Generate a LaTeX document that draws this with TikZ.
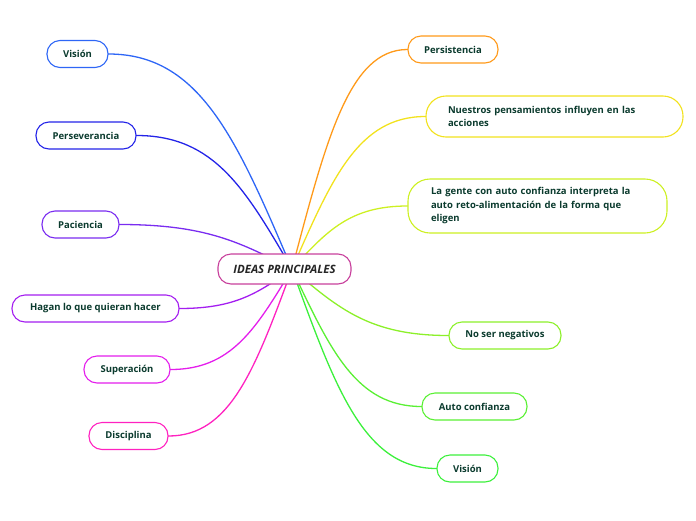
\documentclass[tikz,border=0pt]{standalone}
\usepackage{fontspec}
\setmainfont{Open Sans}
\usetikzlibrary{calc}
\definecolor{txt}{HTML}{0B3B2E}
\definecolor{cvisL}{HTML}{2E66F6}
\definecolor{cpersev}{HTML}{2424E8}
\definecolor{cpac}{HTML}{7A2CF0}
\definecolor{chagan}{HTML}{A41EF0}
\definecolor{csuper}{HTML}{E41EEC}
\definecolor{cdisc}{HTML}{FF22C0}
\definecolor{cpersist}{HTML}{FF9A1A}
\definecolor{cnuestros}{HTML}{F2E21E}
\definecolor{cgente}{HTML}{CDF022}
\definecolor{cnoser}{HTML}{8CF02A}
\definecolor{cauto}{HTML}{5AF034}
\definecolor{cvisR}{HTML}{3CF03C}
\definecolor{ccentral}{HTML}{C8409C}
\tikzset{
  idea/.style={draw, line width=1.1pt, fill=white, rounded corners=13pt,
    minimum height=27pt, inner xsep=4pt, inner ysep=0pt,
    font=\fontsize{9.5}{13.5}\selectfont\bfseries, text=txt},
  bigidea/.style={idea, align=left, inner xsep=22pt, rounded corners=20pt},
  central/.style={draw=ccentral, line width=1.1pt, fill=white, rounded corners=13pt,
    minimum width=133pt, minimum height=30pt,
    font=\fontsize{11.5}{13}\selectfont\bfseries\itshape, text=black!85},
  conn/.style={line width=1.3pt, line cap=round}
}
\newcommand{\linkL}[2]{%
  \draw[conn,#2] let \p1=(#1), \p2=(hub) in (\p1) .. controls ({0.5*\x1+0.5*\x2},\y1) and ({0.7*\x2+0.3*\x1},{0.4*\y2+0.6*\y1}) .. (\p2);}
\begin{document}
\begin{tikzpicture}[x=1pt,y=-1pt]
\useasboundingbox (0,0) rectangle (696,520);
\coordinate (hub) at (292,269);
% left nodes
\node[idea, draw=cvisL, minimum width=61pt] (visL) at (77.5,54) {Visión};
\node[idea, draw=cpersev, minimum width=100pt] (persev) at (86,135.5) {Perseverancia};
\node[idea, draw=cpac, minimum width=77pt] (pac) at (80.5,224.5) {Paciencia};
\node[idea, draw=chagan, minimum width=167pt] (hagan) at (95.5,308.5) {Hagan lo que quieran hacer};
\node[idea, draw=csuper, minimum width=86pt] (super) at (127,369.5) {Superación};
\node[idea, draw=cdisc, minimum width=79pt] (disc) at (128.5,436) {Disciplina};
% right nodes
\node[idea, draw=cpersist, minimum width=90pt] (persist) at (453,49.5) {Persistencia};
\node[bigidea, draw=cnuestros, minimum width=257pt, minimum height=41pt, text width=213pt] (nuestros) at (554.5,116.5) {Nuestros pensamientos influyen en las\\acciones};
\node[bigidea, draw=cgente, minimum width=259pt, minimum height=54pt, text width=213pt, inner xsep=23pt, rounded corners=22pt] (gente) at (537.5,206) {La gente con auto confianza interpreta la\\auto reto-alimentación de la forma que\\eligen};
\node[idea, draw=cnoser, minimum width=112pt] (noser) at (505,335.5) {No ser negativos};
\node[idea, draw=cauto, minimum width=105pt] (auto) at (474.5,406.5) {Auto confianza};
\node[idea, draw=cvisR, minimum width=61pt] (visR) at (467.5,468.5) {Visión};
% connectors
\linkL{visL.east}{cvisL}
\linkL{persev.east}{cpersev}
\linkL{pac.east}{cpac}
\linkL{hagan.east}{chagan}
\linkL{super.east}{csuper}
\linkL{disc.east}{cdisc}
\linkL{persist.west}{cpersist}
\linkL{nuestros.west}{cnuestros}
\linkL{gente.west}{cgente}
\linkL{noser.west}{cnoser}
\linkL{auto.west}{cauto}
\linkL{visR.west}{cvisR}
\node[central] (center) at (284.5,269) {IDEAS PRINCIPALES};
\end{tikzpicture}
\end{document}
